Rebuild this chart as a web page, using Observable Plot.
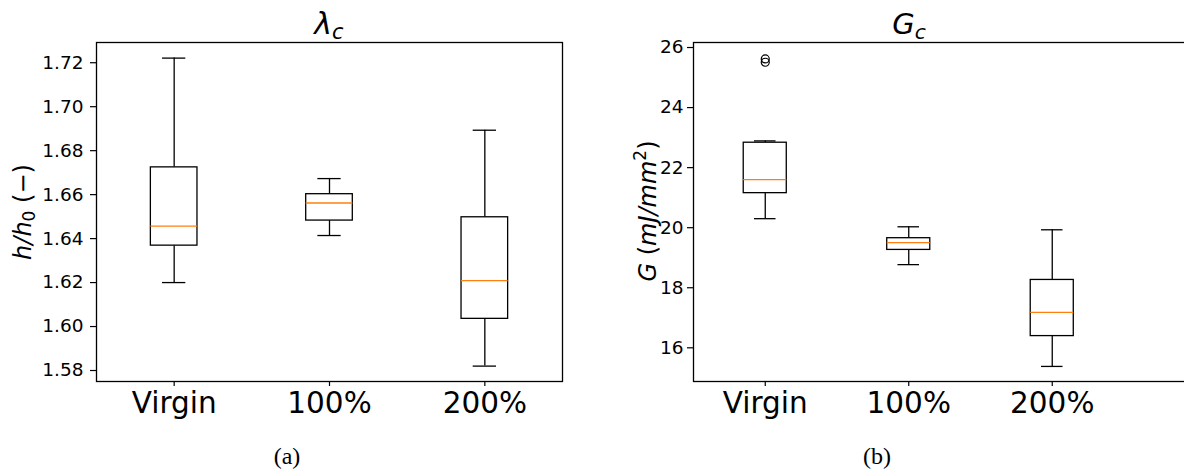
<!DOCTYPE html>
<html><head><meta charset="utf-8">
<script src="https://cdn.jsdelivr.net/npm/d3@7"></script>
<script src="https://cdn.jsdelivr.net/npm/@observablehq/plot@0.6"></script>
<style>
body{margin:0;background:#fff;}
#wrap{position:relative;width:1184px;height:475px;overflow:hidden;background:#fff;}
#wrap > svg{position:absolute;top:0;max-width:none !important;}
</style></head><body><div id="wrap"></div>
<script>
// ---- data ----
const categories = ["Virgin", "100%", "200%"];

// panel (a): lambda_c, h/h0
const lambdaLow  = [1.6200, 1.6414, 1.5820];
const lambdaQ1   = [1.6368, 1.6482, 1.6035];
const lambdaMed  = [1.6457, 1.6562, 1.6209];
const lambdaQ3   = [1.6724, 1.6602, 1.6497];
const lambdaHigh = [1.7221, 1.6673, 1.6893];
const lambdaTicks = [1.58, 1.60, 1.62, 1.64, 1.66, 1.68, 1.70, 1.72];

// panel (b): G_c, mJ/mm^2
const gLow  = [20.30, 18.77, 15.38];
const gQ1   = [21.15, 19.26, 16.39];
const gMed  = [21.60, 19.50, 17.18];
const gQ3   = [22.83, 19.65, 18.26];
const gHigh = [22.89, 20.03, 19.93];
const gOutlierCat   = ["Virgin", "Virgin"];
const gOutlierValue = [25.62, 25.51];
const gTicks = [16, 18, 20, 22, 24, 26];

// ---- build tables ----
const boxTable = (low, q1, med, q3, high) =>
  categories.map((c, i) => ({cat: c, pos: i + 1, low: low[i], q1: q1[i], med: med[i], q3: q3[i], high: high[i]}));
const lambdaData = boxTable(lambdaLow, lambdaQ1, lambdaMed, lambdaQ3, lambdaHigh);
const gData = boxTable(gLow, gQ1, gMed, gQ3, gHigh);
const gOutliers = gOutlierCat.map((c, i) => ({cat: c, pos: categories.indexOf(c) + 1, value: gOutlierValue[i]}));

const BOX_HALF = 0.15, CAP_HALF = 0.075, LW = 1.3;

function panel({data, outliers, yDomain, yTicks, yFormat, xDomain, width, marginLeft, marginRight, yPad}) {
  const height = 430;
  return Plot.plot({
    width, height, marginLeft, marginRight, marginTop: 42, marginBottom: height - 381,
    style: {fontFamily: "DejaVu Sans", fontSize: "18px", color: "black", background: "transparent", overflow: "visible"},
    x: {type: "linear", domain: xDomain},
    y: {domain: yDomain},
    marks: [
      Plot.ruleX(data, {x: "pos", y1: "low", y2: "q1", stroke: "black", strokeWidth: LW}),
      Plot.ruleX(data, {x: "pos", y1: "q3", y2: "high", stroke: "black", strokeWidth: LW}),
      Plot.ruleY(data, {y: "low", x1: d => d.pos - CAP_HALF, x2: d => d.pos + CAP_HALF, stroke: "black", strokeWidth: LW}),
      Plot.ruleY(data, {y: "high", x1: d => d.pos - CAP_HALF, x2: d => d.pos + CAP_HALF, stroke: "black", strokeWidth: LW}),
      Plot.rect(data, {x1: d => d.pos - BOX_HALF, x2: d => d.pos + BOX_HALF, y1: "q1", y2: "q3", fill: "white", stroke: "black", strokeWidth: LW}),
      Plot.ruleY(data, {y: "med", x1: d => d.pos - BOX_HALF, x2: d => d.pos + BOX_HALF, stroke: "#ff7f0e", strokeWidth: 1.3}),
      Plot.dot(outliers, {x: "pos", y: "value", r: 4, stroke: "black", fill: "none", strokeWidth: 1.2}),
      Plot.axisY({ticks: yTicks, tickFormat: yFormat, tickSize: 6, tickPadding: yPad, fontSize: 18.5, label: null, strokeWidth: 1.2}),
      Plot.axisX({ticks: [1, 2, 3], tickFormat: v => categories[v - 1], tickSize: 5, tickPadding: 6, fontSize: 29.5, label: null, strokeWidth: 1.2}),
      Plot.frame({stroke: "black", strokeWidth: 1.3})
    ]
  });
}

const wrap = document.getElementById("wrap");

const a = panel({data: lambdaData, outliers: [], yDomain: [1.575, 1.7292], yTicks: lambdaTicks,
  yFormat: d3.format(".2f"), xDomain: [0.5, 3.5], width: 580, marginLeft: 96, marginRight: 18, yPad: 7});
a.style.left = "0px";
wrap.appendChild(a);

const b = panel({data: gData, outliers: gOutliers, yDomain: [14.878, 26.167], yTicks: gTicks,
  yFormat: d3.format("d"), xDomain: [0.5, 4.73], width: 700, marginLeft: 93, marginRight: 0, yPad: 4});
b.style.left = "600px";
wrap.appendChild(b);

// ---- overlay texts: titles, y labels, captions ----
const ov = d3.select(wrap).append("svg")
  .attr("width", 1184).attr("height", 475)
  .style("left", "0px").style("pointer-events", "none")
  .attr("font-family", "DejaVu Sans").attr("fill", "black");

function title(x, main, sub, size) {
  const t = ov.append("text").attr("x", x).attr("y", 34).attr("text-anchor", "middle")
    .attr("font-size", size).attr("font-style", "italic");
  t.append("tspan").text(main);
  t.append("tspan").attr("font-size", size * 0.7).attr("dy", 5).text(sub);
}
title(329, "λ", "c", 30);
title(909, "G", "c", 29);

// y label (a)
{
  const t = ov.append("text").attr("transform", "translate(31,212) rotate(-90)")
    .attr("text-anchor", "middle").attr("font-size", 24);
  t.append("tspan").attr("font-style", "italic").text("h/h");
  t.append("tspan").attr("font-size", 17).attr("dy", 4).text("0");
  t.append("tspan").attr("dy", -4).text(" (−)");
}
// y label (b)
{
  const t = ov.append("text").attr("transform", "translate(656,211) rotate(-90)")
    .attr("text-anchor", "middle").attr("font-size", 24);
  t.append("tspan").attr("font-style", "italic").text("G");
  t.append("tspan").text(" (");
  t.append("tspan").attr("font-style", "italic").text("mJ/mm");
  t.append("tspan").attr("font-size", 17).attr("dy", -10).text("2");
  t.append("tspan").attr("dy", 10).text(")");
}
// captions
ov.append("text").attr("x", 287).attr("y", 464).attr("text-anchor", "middle")
  .attr("font-family", "Liberation Serif").attr("font-size", 24).text("(a)");
ov.append("text").attr("x", 877).attr("y", 464).attr("text-anchor", "middle")
  .attr("font-family", "Liberation Serif").attr("font-size", 24).text("(b)");
</script>
</body></html>
